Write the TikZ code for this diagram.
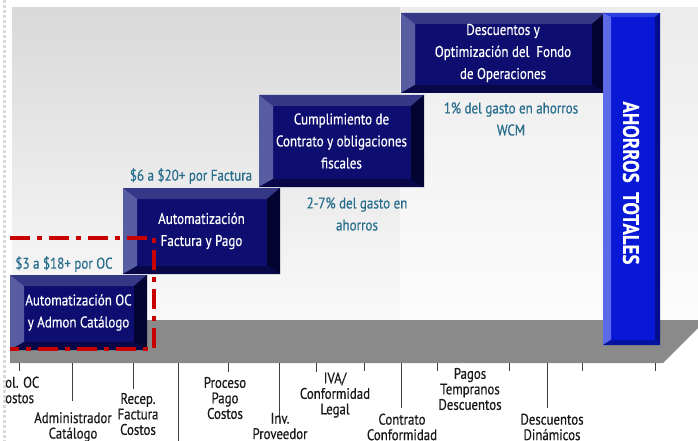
\documentclass[tikz,border=0pt]{standalone}
\usepackage{fontspec}
\setmainfont[FakeStretch=0.84,FakeBold=0.5]{PT Sans}
\definecolor{nvF}{RGB}{14,14,112}
\definecolor{nvL}{RGB}{88,92,160}
\definecolor{nvT}{RGB}{52,56,134}
\definecolor{nvR}{RGB}{4,4,50}
\definecolor{nvB}{RGB}{8,8,72}
\definecolor{blF}{RGB}{8,24,214}
\definecolor{blL}{RGB}{92,106,232}
\definecolor{blT}{RGB}{44,62,222}
\definecolor{blR}{RGB}{4,14,140}
\definecolor{blB}{RGB}{6,18,160}
\definecolor{tealtxt}{RGB}{40,110,140}
\definecolor{redline}{RGB}{200,0,0}
\definecolor{floorc}{RGB}{138,138,138}
\tikzset{
  bevel/.style n args={5}{path picture={%
    \path (path picture bounding box.south west) coordinate (bSW)
          (path picture bounding box.north east) coordinate (bNE)
          (path picture bounding box.north west) coordinate (bNW)
          (path picture bounding box.south east) coordinate (bSE);
    \path ([shift={(#1pt,#4pt)}]bSW) coordinate (iSW)
          ([shift={(#1pt,-#2pt)}]bNW) coordinate (iNW)
          ([shift={(-#3pt,-#2pt)}]bNE) coordinate (iNE)
          ([shift={(-#3pt,#4pt)}]bSE) coordinate (iSE);
    \fill[#5T] (bNW) -- (bNE) -- (iNE) -- (iNW) -- cycle;
    \fill[#5L] (bSW) -- (bNW) -- (iNW) -- (iSW) -- cycle;
    \fill[#5R] (bNE) -- (bSE) -- (iSE) -- (iNE) -- cycle;
    \fill[#5B] (bSW) -- (bSE) -- (iSE) -- (iSW) -- cycle;
  }},
  navybox/.style={rectangle, inner sep=0pt, fill=nvF, text=white, align=center,
    font=\fontsize{15.5}{22}\selectfont, bevel={14}{11}{13}{8}{nv}},
  bluebox/.style={rectangle, inner sep=0pt, fill=blF, text=white, align=center,
    bevel={8}{4}{5}{5}{bl}},
  tealnote/.style={text=tealtxt, align=center, inner sep=0pt,
    font=\fontsize{15.5}{22}\selectfont},
  steplabel/.style={text=black!90, align=center, inner sep=0pt,
    font=\fontsize{15.3}{15.5}\selectfont},
  tick/.style={black!75, line width=0.8pt},
  redbox/.style={redline, line width=4pt, dash pattern=on 20pt off 7pt on 5pt off 7pt}
}
\begin{document}
\begin{tikzpicture}[x=1pt,y=-1pt]
\useasboundingbox (0,0) rectangle (698,441);
\fill[white] (0,0) rectangle (698,441);
% left dotted margin
\draw[black!15, line width=3pt, dash pattern=on 3pt off 2pt] (4,0) -- (4,441);
% background panel
\shade[top color=black!15, bottom color=black!2] (12,8) rectangle (698,322);
\shade[left color=black!0, right color=white, opacity=0.5] (400,8) rectangle (698,322);
% floor
\fill[floorc] (10,320) -- (706,320) -- (663,363) -- (10,363) -- cycle;

% boxes
\node[navybox, minimum width=137pt, minimum height=75pt] (b1) at (78.5,312.5)
  {Automatización OC\\y Admon Catálogo};
\node[navybox, minimum width=157pt, minimum height=86pt] (b2) at (201.5,231)
  {Automatización\\Factura y Pago};
\node[navybox, minimum width=165pt, minimum height=92pt] (b3) at (341.5,141)
  {Cumplimiento de\\Contrato y obligaciones\\fiscales};
\node[navybox, minimum width=204pt, minimum height=80pt] (b4) at (503,53)
  {Descuentos y\\Optimización del~~Fondo\\de Operaciones};
\node[bluebox, minimum width=57pt, minimum height=332pt] (b5) at (631.5,179) {};
\node[rotate=-90, text=white, font=\fontsize{22.5}{24}\selectfont\bfseries, inner sep=0pt] (tot) at (631,183) {AHORROS~~TOTALES};

% teal notes
\node[tealnote] (n1) at (64,264) {\$3 a \$18+ por OC};
\node[tealnote] (n2) at (191,176) {\$6 a \$20+ por Factura};
\node[tealnote] (n3) at (357,214) {2-7\% del gasto en\\ahorros};
\node[tealnote] (n4) at (511,119) {1\% del gasto en ahorros\\WCM};

% red dash-dot frame
\coordinate (r1) at (10,238);
\coordinate (r2) at (154,238);
\coordinate (r3) at (154,349);
\coordinate (r4) at (10,349);
\draw[redbox] (r1) -- (r2) -- (r3) -- (r4);

% ticks
\foreach \x/\y in {19/371, 72/401, 133/389, 178/441, 228/372, 279/418, 316/372, 364/371, 401/408, 437/371, 509/371, 547/408, 582/371, 655/371}
  \draw[tick] (\x,363) -- (\x,\y);

% bottom labels
\node[steplabel, align=left, anchor=west] (l1) at (5,390) {ol. OC\\ostos};
\node[steplabel] (l2) at (73,427) {Administrador\\Catálogo};
\node[steplabel] (l3) at (138,414) {Recep.\\Factura\\Costos};
\node[steplabel] (l4) at (225,398) {Proceso\\Pago\\Costos};
\node[steplabel] (l5) at (280,426) {Inv.\\Proveedor};
\node[steplabel] (l6) at (335,395) {IVA/\\Conformidad\\Legal};
\node[steplabel] (l7) at (402,427) {Contrato\\Conformidad};
\node[steplabel] (l8) at (470,389) {Pagos\\Tempranos\\Descuentos};
\node[steplabel] (l9) at (552,427) {Descuentos\\Dinámicos};
\end{tikzpicture}
\end{document}
